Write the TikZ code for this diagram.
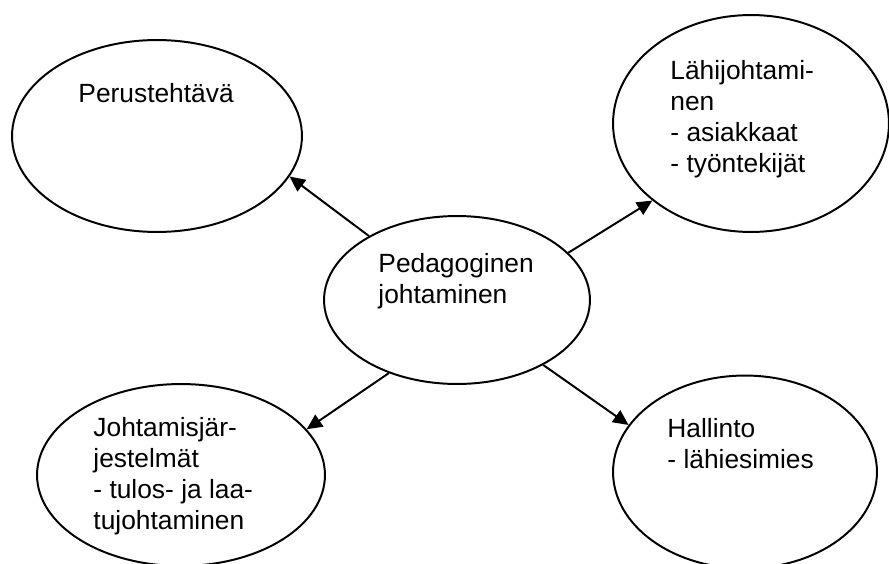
\documentclass[tikz,border=0pt]{standalone}
\usepackage{fontspec}
\setmainfont{Liberation Sans}
\usetikzlibrary{arrows.meta,shapes.geometric}

\begin{document}
\begin{tikzpicture}[x=0.016cm,y=-0.016cm,
    soikio/.style={draw,ellipse,line width=0.9pt,inner sep=0pt},
    teksti/.style={anchor=base west,inner sep=0pt,align=left,
      font=\fontsize{12}{14.1}\selectfont},
    nuoli/.style={line width=0.9pt,-{Triangle[length=7pt,width=6.5pt]}}]
  \useasboundingbox (0,0) rectangle (889,563);
  % soikiot
  \node[soikio,minimum width=4.256cm,minimum height=2.688cm] (ped) at (457,300) {};
  \node[soikio,minimum width=4.64cm,minimum height=3.072cm] (perus) at (157,136) {};
  \node[soikio,minimum width=4.416cm,minimum height=3.472cm] (lahi) at (751,123.5) {};
  \node[soikio,minimum width=4.608cm,minimum height=2.912cm] (johto) at (181,475) {};
  \node[soikio,minimum width=4.224cm,minimum height=3.088cm] (hall) at (745,472) {};
  % tekstit (base = viimeisen rivin perusviiva)
  \node[teksti] (pedteksti) at (378,303) {Pedagoginen\\johtaminen};
  \node[teksti] (perusteksti) at (78,102) {Perustehtävä};
  \node[teksti] (lahiteksti) at (670,172) {Lähijohtami-\\nen\\- asiakkaat\\- työntekijät};
  \node[teksti] (johtoteksti) at (93,529) {Johtamisjär-\\jestelmät\\- tulos- ja laa-\\tujohtaminen};
  \node[teksti] (hallteksti) at (667,468) {Hallinto\\- lähiesimies};
  % nuolet
  \draw[nuoli] (ped.144) -- (perus.-17);
  \draw[nuoli] (ped.23) -- (lahi.218);
  \draw[nuoli] (ped.227.5) -- (johto.20.5);
  \draw[nuoli] (ped.-37) -- (hall.158.6);
\end{tikzpicture}
\end{document}
